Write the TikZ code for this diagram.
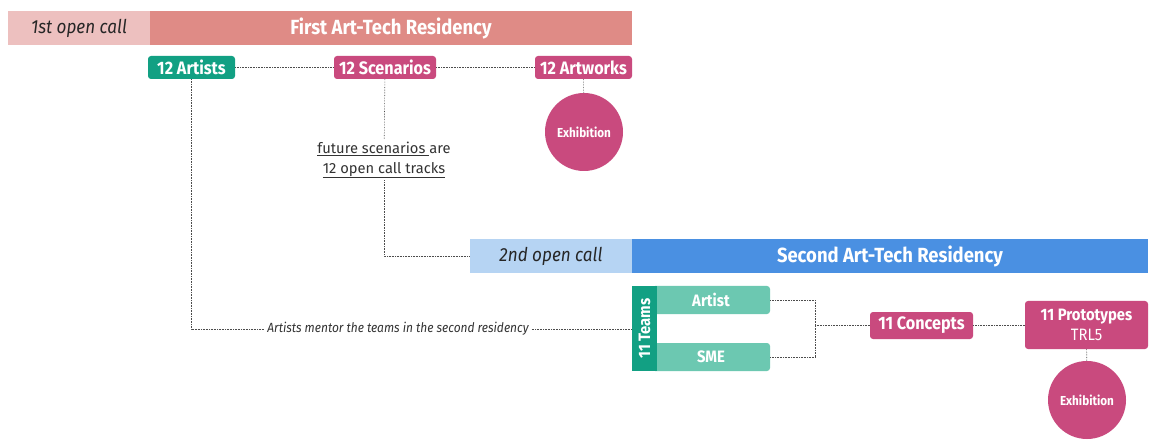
\documentclass[tikz,border=0pt]{standalone}
\usepackage{fontspec}
\usepackage{tikz}
\usetikzlibrary{calc,positioning}
\setmainfont{Fira Sans}
\newfontfamily\condfont[FakeStretch=0.9]{Fira Sans}
\definecolor{pinklight}{HTML}{EDC0BF}
\definecolor{pinkdark}{HTML}{DF8B86}
\definecolor{bluelight}{HTML}{B6D4F3}
\definecolor{bluedark}{HTML}{4A90E2}
\definecolor{magentabox}{HTML}{C94A7E}
\definecolor{greenbox}{HTML}{12A083}
\definecolor{greenlight}{HTML}{6CC8B1}
\tikzset{
  callbar/.style={rectangle, inner sep=0pt, text=black!85, font=\condfont\itshape\fontsize{19}{19}\selectfont},
  resbar/.style={rectangle, inner sep=0pt, text=white, font=\condfont\bfseries\fontsize{20.5}{20.5}\selectfont},
  tagbox/.style={rectangle, rounded corners=3pt, inner sep=0pt, text=white, font=\condfont\bfseries\fontsize{18}{18}\selectfont},
  exhib/.style={circle, fill=magentabox, inner sep=0pt, minimum size=78pt, text=white, font=\condfont\bfseries\fontsize{13}{13}\selectfont},
  link/.style={densely dotted, black!70, line width=0.6pt},
}
\begin{document}
\begin{tikzpicture}[x=1pt,y=-1pt]
			%%%%% START %%%%%
			\useasboundingbox[fill=white] (0,0) rectangle (1174,443);
			
			% first residency
			\node[callbar, fill=pinklight, minimum width=142pt, minimum height=34pt] (callA) at (79,28) {1st open call};
			\node[resbar, fill=pinkdark, minimum width=482pt, minimum height=34pt] (resA) at (391,28) {First Art-Tech Residency};
			
			\node[tagbox, fill=greenbox, minimum width=87pt, minimum height=23pt] (artists) at (191.5,67.5) {12 Artists};
			\node[tagbox, fill=magentabox, minimum width=102pt, minimum height=23pt] (scenarios) at (385,67.5) {12 Scenarios};
			\node[tagbox, fill=magentabox, minimum width=97pt, minimum height=23pt] (artworks) at (583.5,67.5) {12 Artworks};
			\node[exhib] (exhA) at (584,132) {Exhibition};
			
			\node[align=center, inner sep=2pt, text=black!80, font=\fontsize{14.7}{20}\selectfont] (tracks) at (384,160) {\underline{future scenarios }are\\\underline{12 open call tracks}};
			
			% second residency
			\node[callbar, fill=bluelight, minimum width=162pt, minimum height=34pt] (callB) at (551,256) {2nd open call};
			\node[resbar, fill=bluedark, minimum width=516pt, minimum height=34pt] (resB) at (890,256) {Second Art-Tech Residency};
			
			\node[tagbox, fill=greenlight, minimum width=118pt, minimum height=28pt, font=\condfont\bfseries\fontsize{16.5}{16.5}\selectfont] (artist) at (711,300) {Artist};
			\node[tagbox, fill=greenlight, minimum width=118pt, minimum height=28pt, font=\condfont\bfseries\fontsize{16.5}{16.5}\selectfont] (sme) at (711,357) {SME};
			\node[rectangle, fill=greenbox, inner sep=0pt, rotate=90, minimum width=85pt, minimum height=25pt, text=white, font=\condfont\bfseries\fontsize{16.5}{16.5}\selectfont] (teams) at (644.5,328.5) {11 Teams};
			
			\node[tagbox, fill=magentabox, minimum width=103pt, minimum height=27pt] (concepts) at (921.5,325.5) {11 Concepts};
			\node[tagbox, fill=magentabox, minimum width=123pt, minimum height=48pt, align=center, font=\condfont\fontsize{16.5}{20}\selectfont] (protos) at (1086.5,325) {\textbf{11 Prototypes}\\TRL5};
			\node[exhib] (exhB) at (1087,400) {Exhibition};
			
			\node[inner sep=3pt, text=black!80, font=\condfont\itshape\fontsize{13.3}{13.3}\selectfont] (mentor) at (398,329) {Artists mentor the teams in the second residency};
			\coordinate (join) at (815,325.5);
			
			% connectors
			\draw[link] (artists) -- (scenarios);
			\draw[link] (scenarios) -- (artworks);
			\draw[link] (artworks) -- (exhA);
			\draw[link] (scenarios) -- (tracks);
			\draw[link] (tracks.south) |- (callB.west);
			\draw[link] (artists.south) |- (mentor.west);
			\draw[link] (mentor.east) -- (mentor.east -| teams.north);
			\draw[link] (artist.east) -| (join);
			\draw[link] (sme.east) -| (join);
			\draw[link] (join) -- (concepts);
			\draw[link] (concepts.east) -- (concepts.east -| protos.west);
			\draw[link] (protos) -- (exhB);
			
			%%%%% END %%%%%
\end{tikzpicture}
\end{document}
